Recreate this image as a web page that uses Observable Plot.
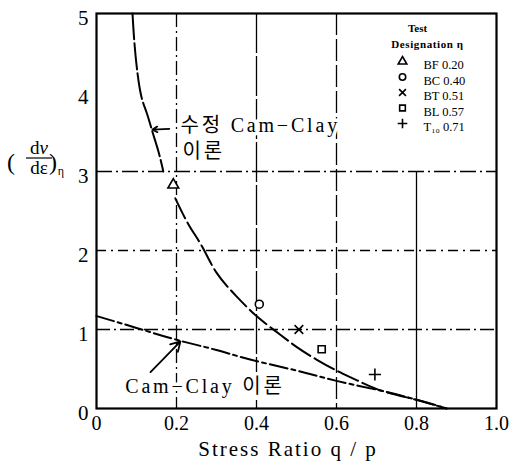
<!DOCTYPE html>
<html><head><meta charset="utf-8">
<script src="https://cdn.jsdelivr.net/npm/d3@7"></script>
<script src="https://cdn.jsdelivr.net/npm/@observablehq/plot@0.6"></script>
<style>body{margin:0;background:#fff}</style>
</head><body><div id="chart"></div>
<script>
const xTicks = [0, 0.2, 0.4, 0.6, 0.8, 1.0];
const yTicks = [0, 1, 2, 3, 4, 5];
const specimens = ["BF", "BC", "BT", "BL", "T₁₀"];
const etaValues = ["0.20", "0.40", "0.51", "0.57", "0.71"];
const symbolNames = ["triangle", "circle", "times", "square", "plus"];
const testX = [0.192, 0.407, 0.506, 0.563, 0.696];
const testY = [2.83, 1.32, 1.0, 0.75, 0.43];
const modUpperX = [0.09, 0.097, 0.11, 0.125, 0.14, 0.155, 0.167];
const modUpperY = [5.0, 4.5, 4.0, 3.75, 3.5, 3.25, 3.0];
const modLowerX = [0.197, 0.23, 0.264, 0.3, 0.35, 0.4, 0.45, 0.5, 0.55, 0.6, 0.65, 0.716, 0.8, 0.875];
const modLowerY = [2.66, 2.33, 2.05, 1.72, 1.42, 1.17, 0.97, 0.78, 0.62, 0.48, 0.36, 0.22, 0.11, 0];
const camX = [0, 0.1, 0.2, 0.3, 0.384, 0.5, 0.6, 0.716, 0.8, 0.875];
const camY = [1.17, 1.02, 0.87, 0.74, 0.62, 0.48, 0.35, 0.22, 0.11, 0];
const annotations = [
  {x: 0.21, y: 3.58, text: "수정 Cam−Clay"},
  {x: 0.215, y: 3.25, text: "이론"},
  {x: 0.072, y: 0.28, text: "Cam−Clay 이론"}
];
const arrows = [
  {x1: 0.182, y1: 3.54, x2: 0.14, y2: 3.53},
  {x1: 0.135, y1: 0.46, x2: 0.21, y2: 0.85}
];

const points = testX.map((x, i) => ({x, y: testY[i], name: specimens[i]}));
const modUpper = modUpperX.map((x, i) => ({x, y: modUpperY[i]}));
const modLower = modLowerX.map((x, i) => ({x, y: modLowerY[i]}));
const cam = camX.map((x, i) => ({x, y: camY[i]}));
const legendRows = specimens.map((s, i) => ({name: s, label: s + " " + etaValues[i]}));

const serif = "'Liberation Serif', 'Noto Sans CJK KR', serif";
const gridStyle = {stroke: "#000", strokeWidth: 1.3};

const plot = Plot.plot({
  width: 513, height: 466,
  marginLeft: 96, marginRight: 17, marginTop: 13, marginBottom: 58,
  style: {fontFamily: serif, fontSize: "20px", color: "#000", background: "#fff"},
  x: {domain: [0, 1]},
  y: {domain: [0, 5]},
  symbol: {domain: specimens, range: symbolNames},
  marks: [
    Plot.ruleY([1], {...gridStyle, strokeDasharray: "14,4,2,4"}),
    Plot.ruleY([2], {...gridStyle, strokeDasharray: "10,5,2,5"}),
    Plot.ruleY([3], {...gridStyle, strokeDasharray: "16,4,2,4"}),
    Plot.ruleX([0.2], {...gridStyle, strokeDasharray: "14,4,2,4"}),
    Plot.ruleX([0.4], {...gridStyle, strokeDasharray: "40,3"}),
    Plot.ruleX([0.6], {...gridStyle, strokeDasharray: "22,4"}),
    Plot.ruleX([0.8], {...gridStyle, y1: 0, y2: 3}),
    Plot.line(modUpper, {x: "x", y: "y", stroke: "#000", strokeWidth: 2, strokeDasharray: "26,4", curve: "natural"}),
    Plot.line(modLower, {x: "x", y: "y", stroke: "#000", strokeWidth: 2, strokeDasharray: "22,5", curve: "natural"}),
    Plot.line(cam, {x: "x", y: "y", stroke: "#000", strokeWidth: 2, strokeDasharray: "18,4,4,4", curve: "natural"}),
    Plot.dot(points, {x: "x", y: "y", symbol: "name", r: 4, stroke: "#000", fill: "#fff", strokeWidth: 1.6}),
    Plot.text(annotations, {x: "x", y: "y", text: "text", textAnchor: "start", fontSize: 20,
      fill: "#000", stroke: "#fff", strokeWidth: 7}),
    Plot.arrow(arrows, {x1: "x1", y1: "y1", x2: "x2", y2: "y2", stroke: "#000", strokeWidth: 1.8, headLength: 9}),
    Plot.frame({stroke: "#000", strokeWidth: 2.2}),
    Plot.axisX({ticks: xTicks, tickSize: 0, tickPadding: 7, label: null,
      tickFormat: d => d === 0 ? "0" : d.toFixed(1), fontSize: 20}),
    Plot.axisY({ticks: yTicks, tickSize: 0, tickPadding: 8, dy: 5, label: null,
      tickFormat: d => String(d), fontSize: 21}),
    Plot.text(["Test"], {frameAnchor: "top-right", dx: -79, dy: 11, textAnchor: "middle", fontSize: 11, fontWeight: "bold"}),
    Plot.text(["Designation η"], {frameAnchor: "top-right", dx: -69, dy: 27, textAnchor: "middle", fontSize: 11, fontWeight: "bold"}),
    ...legendRows.map((r, i) => Plot.dot([r], {frameAnchor: "top-right", dx: -94, dy: 48 + i * 15.5,
      symbol: "name", r: 3.2, stroke: "#000", fill: "#fff", strokeWidth: 1.6})),
    ...legendRows.map((r, i) => Plot.text([r], {frameAnchor: "top-right", dx: -73, dy: 47 + i * 15.5,
      text: "label", textAnchor: "start", fontSize: 12.5}))
  ]
});

const svg = d3.select(plot);
svg.append("text").attr("x", 288).attr("y", 456).attr("text-anchor", "middle")
  .attr("font-size", 21).attr("letter-spacing", "2px")
  .text("Stress Ratio q / p");
const yl = svg.append("g").attr("fill", "#000");
yl.append("text").attr("x", 11).attr("y", 170).attr("font-size", 24).text("(");
const num = yl.append("text").attr("x", 39).attr("y", 154).attr("text-anchor", "middle").attr("font-size", 19);
num.append("tspan").text("d");
num.append("tspan").attr("font-style", "italic").text("v");
yl.append("line").attr("x1", 26).attr("x2", 52).attr("y1", 158).attr("y2", 158).attr("stroke", "#000").attr("stroke-width", 1.2);
yl.append("text").attr("x", 39).attr("y", 174).attr("text-anchor", "middle").attr("font-size", 19).text("dε");
yl.append("text").attr("x", 53).attr("y", 170).attr("font-size", 24).text(")");
yl.append("text").attr("x", 61).attr("y", 175).attr("font-size", 12).text("η");

svg.selectAll("text, tspan").style("font-family", serif);
const annTexts = annotations.map(a => a.text);
svg.selectAll("text").filter(function() { return annTexts.includes(this.textContent); })
  .style("letter-spacing", "2.8px");
svg.selectAll("text").filter(function() { return this.textContent === "Designation η"; })
  .style("letter-spacing", "0.6px");

document.getElementById("chart").appendChild(plot);
</script>
</body></html>
